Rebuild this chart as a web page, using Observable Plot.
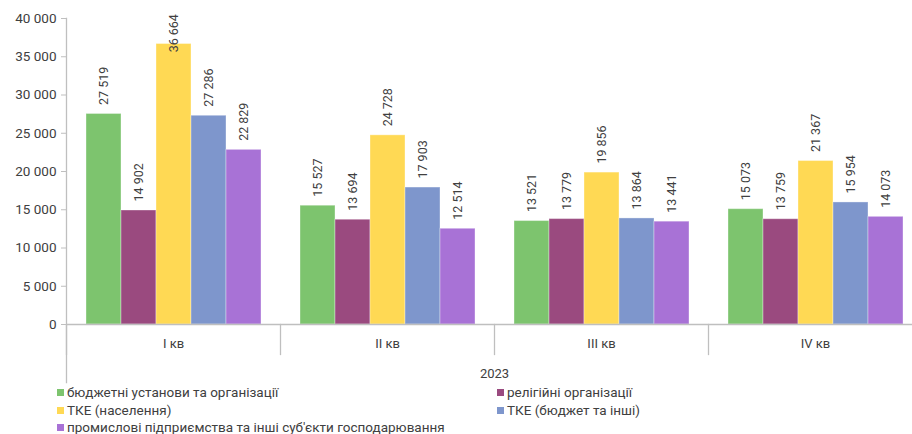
<!DOCTYPE html>
<html><head><meta charset="utf-8">
<script src="https://cdn.jsdelivr.net/npm/d3@7"></script>
<script src="https://cdn.jsdelivr.net/npm/@observablehq/plot@0.6"></script>
<style>
html,body{margin:0;padding:0;background:#fff;overflow:hidden;}
#chart{width:912px;}
#chart svg{overflow:hidden;}
.legend{font-family:Roboto, sans-serif;font-size:13.5px;color:#404040;display:grid;grid-template-columns:440px 410px;padding-left:57px;line-height:17.5px;}
.legend .sw{display:inline-block;width:7px;height:7px;margin-right:3px;vertical-align:1px;}
</style></head><body><div id="chart"></div>
<script>
const quarters = ["I кв", "II кв", "III кв", "IV кв"];
const series = [
  "бюджетні установи та організації",
  "релігійні організації",
  "ТКЕ (населення)",
  "ТКЕ (бюджет та інші)",
  "промислові підприємства та інші суб'єкти господарювання"
];
const colors = ["#7dc46e", "#9a4a7f", "#ffd954", "#7e96cc", "#a872d6"];
const budgetInst = [27519, 15527, 13521, 15073];
const religious = [14902, 13694, 13779, 13759];
const tkePopulation = [36664, 24728, 19856, 21367];
const tkeBudget = [27286, 17903, 13864, 15954];
const industry = [22829, 12514, 13441, 14073];
const yTicks = [0, 5000, 10000, 15000, 20000, 25000, 30000, 35000, 40000];
const yearLabel = "2023";
const labelCeiling = 34400; // labels that would leave the chart are pushed down, as in the source

const seriesValues = [budgetInst, religious, tkePopulation, tkeBudget, industry];
const data = [];
quarters.forEach((q, qi) => series.forEach((s, si) => data.push({quarter: q, series: s, value: seriesValues[si][qi]})));

const fmt = d3.formatLocale({thousands: "\u00a0", grouping: [3], decimal: ","}).format(",d");
const font = "Roboto, sans-serif";

const plot = Plot.plot({
  width: 912, height: 384,
  marginLeft: 65, marginRight: -10, marginTop: 18, marginBottom: 60,
  style: {fontFamily: font, fontSize: "13px", color: "#404040", background: "white"},
  fx: {domain: quarters, padding: 0, label: yearLabel, axis: null},
  x: {domain: series, paddingInner: 0, paddingOuter: 0.5, align: 0.5, axis: null},
  y: {domain: [0, 40000], axis: null},
  color: {domain: series, range: colors},
  marks: [
    Plot.barY(data, {fx: "quarter", x: "series", y: "value", fill: "series", stroke: "white", strokeOpacity: 0.35}),
    Plot.text(data, {fx: "quarter", x: "series", y: d => Math.min(d.value, labelCeiling), text: d => fmt(d.value),
      rotate: -90, textAnchor: "start", lineAnchor: "middle", dy: -9, fontSize: 12.5, fill: "#404040"}),
    Plot.ruleY([0], {stroke: "#bfbfbf", strokeWidth: 1.3}),
    Plot.frame({anchor: "left", facetAnchor: "left", stroke: "#bfbfbf", strokeWidth: 1.3, insetBottom: -58}),
    Plot.frame({anchor: "left", stroke: "#bfbfbf", strokeWidth: 1.3, insetTop: 306, insetBottom: -30}),
    Plot.axisY({ticks: yTicks, tickFormat: fmt, tickSize: 5, tickPadding: 5, label: null, stroke: "#bfbfbf", fill: "#404040", fontSize: 13.5}),
    Plot.axisFx({anchor: "bottom", tickSize: 0, tickPadding: 14, label: yearLabel, labelAnchor: "center", labelOffset: 53, fill: "#404040", fontSize: 13})
  ]
});
document.getElementById("chart").appendChild(plot);

const legend = document.createElement("div");
legend.className = "legend";
series.forEach((s, i) => {
  const item = document.createElement("div");
  const sw = document.createElement("span");
  sw.className = "sw";
  sw.style.background = colors[i];
  item.appendChild(sw);
  item.appendChild(document.createTextNode(s));
  legend.appendChild(item);
});
document.getElementById("chart").appendChild(legend);
</script></body></html>
